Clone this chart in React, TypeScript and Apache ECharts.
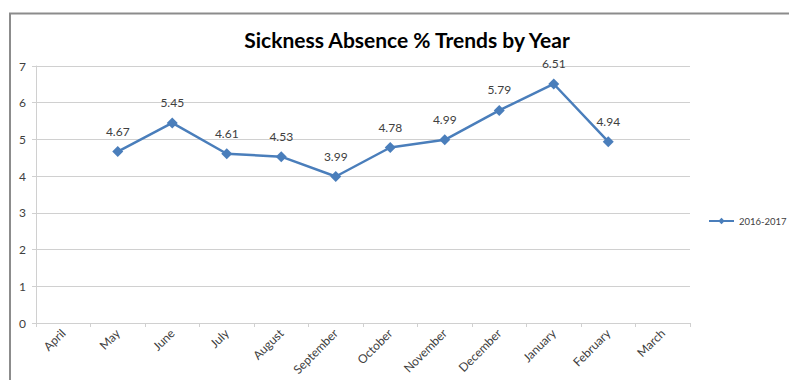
import React, { useEffect, useRef } from "react";
import * as echarts from "echarts";

const categories = ["April", "May", "June", "July", "August", "September", "October", "November", "December", "January", "February", "March"];
const values: (number | null)[] = [null, 4.67, 5.45, 4.61, 4.53, 3.99, 4.78, 4.99, 5.79, 6.51, 4.94, null];
const seriesName = "2016-2017";
const titleText = "Sickness Absence % Trends by Year";

const FONT = "Lato";

export default function App() {
  const ref = useRef<HTMLDivElement>(null);
  useEffect(() => {
    if (!ref.current) return;
    const chart = echarts.init(ref.current, null, { renderer: "svg" });
    chart.setOption({
      animation: false,
      backgroundColor: "#ffffff",
      title: {
        text: titleText,
        left: 402,
        textAlign: "center",
        top: 24,
        textStyle: { fontFamily: FONT, fontWeight: "bold", fontSize: 21, color: "#000000" },
      },
      graphic: [
        {
          type: "rect",
          shape: { x: 10, y: 13.5, width: 800, height: 400 },
          style: { fill: "none", stroke: "#8c8c8c", lineWidth: 2 },
          silent: true,
        },
      ],
      legend: {
        data: [{ name: seriesName }],
        left: 708,
        top: 216,
        padding: 0,
        itemWidth: 25,
        itemHeight: 8,
        textStyle: { fontFamily: FONT, fontSize: 9.5, color: "#404040" },
      },
      grid: { left: 36, right: 99, top: 66, bottom: 57, containLabel: false },
      xAxis: {
        type: "category",
        data: categories,
        boundaryGap: true,
        axisLine: { lineStyle: { color: "#d0d0d0", width: 1 } },
        axisTick: { show: true, length: 4, lineStyle: { color: "#d0d0d0" } },
        axisLabel: {
          rotate: 45,
          interval: 0,
          fontFamily: FONT,
          fontSize: 12,
          color: "#404040",
          margin: 8,
        },
      },
      yAxis: {
        type: "value",
        min: 0,
        max: 7,
        interval: 1,
        axisLine: { show: true, lineStyle: { color: "#d0d0d0", width: 1 } },
        axisTick: { show: true, length: 4, lineStyle: { color: "#d0d0d0" } },
        axisLabel: { fontFamily: FONT, fontSize: 12, color: "#404040", margin: 10 },
        splitLine: { lineStyle: { color: "#d0d0d0", width: 1 } },
      },
      series: [
        {
          name: seriesName,
          type: "line",
          data: values,
          connectNulls: false,
          symbol: "diamond",
          symbolSize: 11,
          itemStyle: { color: "#4a7ebb" },
          lineStyle: { color: "#4a7ebb", width: 2.5 },
          label: {
            show: true,
            position: "top",
            distance: 9,
            fontFamily: FONT,
            fontSize: 12,
            color: "#404040",
          },
        },
      ],
    });
    return () => chart.dispose();
  }, []);
  return <div ref={ref} style={{ width: 789, height: 380, position: "absolute", left: 0, top: 0 }} />;
}
